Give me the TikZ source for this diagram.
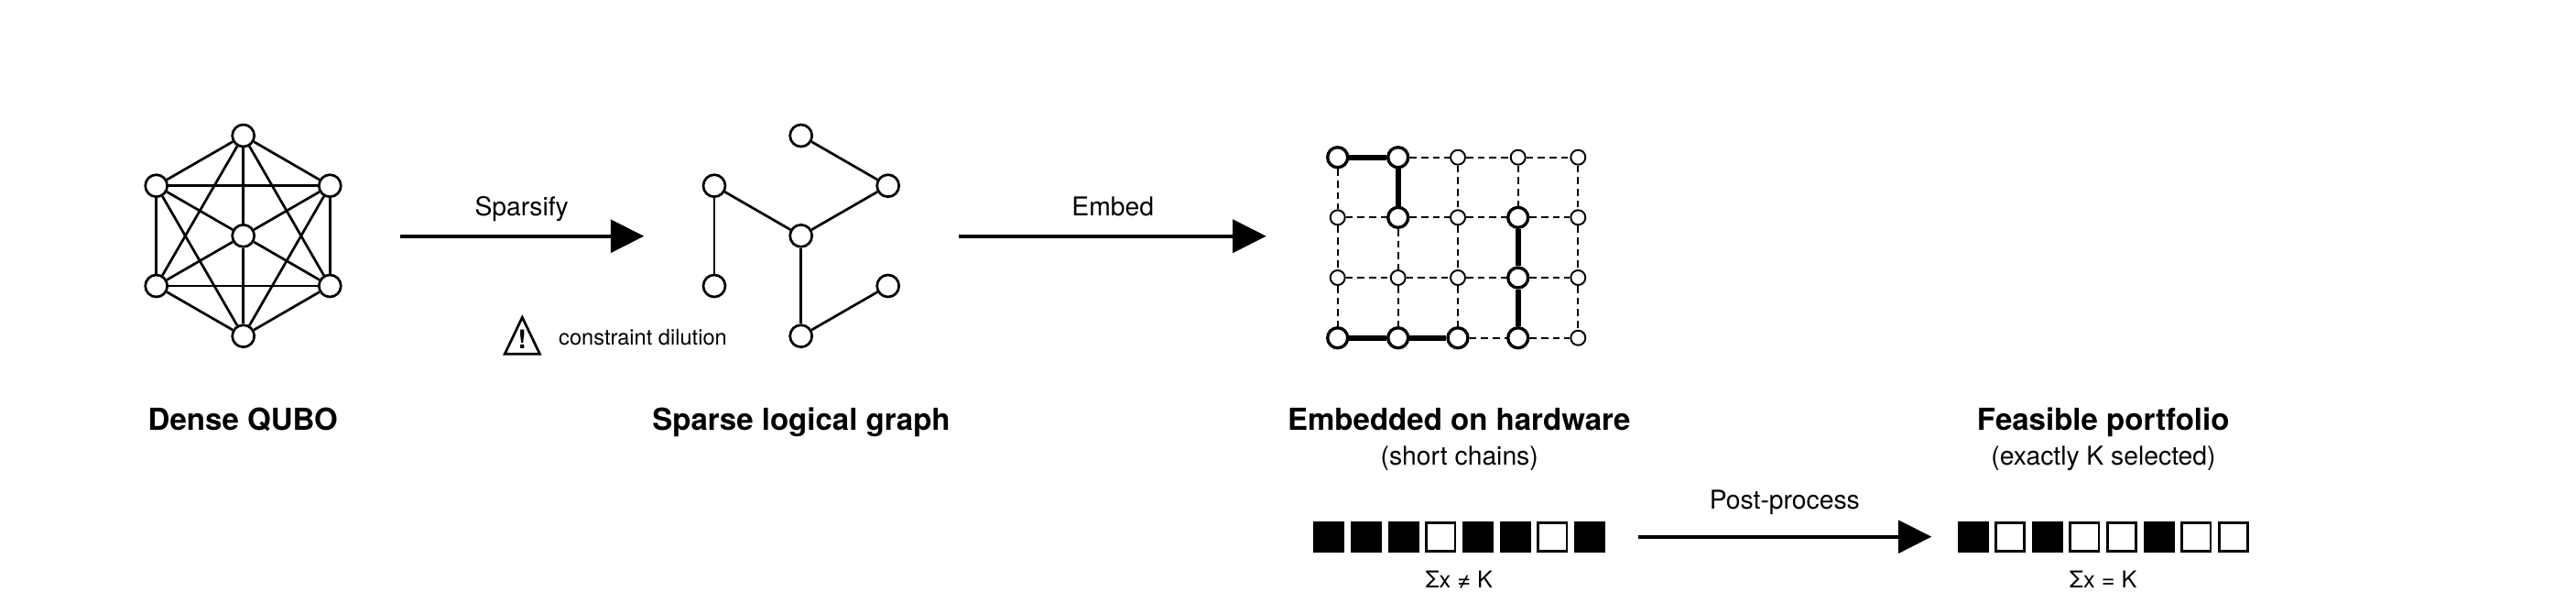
\documentclass[tikz,border=0pt]{standalone}
\usepackage{fontspec}
\setmainfont{TeX Gyre Heros}
\usetikzlibrary{arrows.meta}
\tikzset{
  vert/.style={draw, circle, fill=white, inner sep=0pt, minimum size=0.24cm, line width=0.77pt},
  qsmall/.style={draw, circle, fill=white, inner sep=0pt, minimum size=0.16cm, line width=0.55pt},
  qbig/.style={draw, circle, fill=white, inner sep=0pt, minimum size=0.22cm, line width=0.95pt},
  link/.style={line width=0.77pt},
  coupler/.style={line width=0.48pt, dash pattern=on 2.2pt off 1.4pt},
  chain/.style={line width=1.6pt},
  bit1/.style={draw, fill=black, inner sep=0pt, minimum size=0.313cm, line width=0.77pt},
  bit0/.style={draw, fill=white, inner sep=0pt, minimum size=0.313cm, line width=0.77pt},
  flow/.style={line width=1.14pt, -{Triangle[length=10.4pt, width=10.2pt]}},
  titletxt/.style={anchor=base, font=\fontsize{9.4}{11}\selectfont\bfseries},
  steptxt/.style={anchor=base, font=\fontsize{8.05}{9}\selectfont},
  smalltxt/.style={anchor=base, font=\fontsize{7.2}{8}\selectfont}
}
\begin{document}
\begin{tikzpicture}
\useasboundingbox (0,0) rectangle (28.13,6.57);
% dense graph
\node [vert] (d0) at (2.657,5.09) {}; \node [vert] (d1) at (3.603,4.543) {};
\node [vert] (d2) at (3.603,3.45) {}; \node [vert] (d3) at (2.657,2.903) {};
\node [vert] (d4) at (1.707,3.45) {}; \node [vert] (d5) at (1.707,4.543) {};
\node [vert] (dc) at (2.657,3.997) {};
\draw [link] (d0) -- (d1); \draw [link] (d1) -- (d2); \draw [link] (d2) -- (d3);
\draw [link] (d3) -- (d4); \draw [link] (d4) -- (d5); \draw [link] (d5) -- (d0);
\draw [link] (d0) -- (d2); \draw [link] (d1) -- (d3); \draw [link] (d2) -- (d4);
\draw [link] (d3) -- (d5); \draw [link] (d4) -- (d0); \draw [link] (d5) -- (d1);
\draw [link] (dc) -- (d0); \draw [link] (dc) -- (d1); \draw [link] (dc) -- (d2);
\draw [link] (dc) -- (d3); \draw [link] (dc) -- (d4); \draw [link] (dc) -- (d5);
\node [titletxt] (densetitle) at (2.653,1.88) {Dense QUBO};
% sparsify
\coordinate (sf1) at (4.373,3.993); \coordinate (sf2) at (7.033,3.993);
\draw [flow] (sf1) -- (sf2); \node [steptxt] (sflabel) at (5.697,4.213) {Sparsify};
\draw [line width=0.77pt] (5.703,3.107) -- (5.895,2.707) -- (5.512,2.707) -- cycle;
\node [anchor=base, font=\fontsize{8}{9}\selectfont\bfseries] (warnmark) at (5.703,2.77) {!};
\node [anchor=base, font=\fontsize{6.72}{8}\selectfont] (warntext) at (7.02,2.803) {constraint dilution};
% sparse graph
\node [vert] (s0) at (8.747,5.09) {}; \node [vert] (s1) at (9.697,4.543) {};
\node [vert] (s2) at (9.697,3.45) {}; \node [vert] (s3) at (8.747,2.903) {};
\node [vert] (s4) at (7.8,3.45) {}; \node [vert] (s5) at (7.8,4.543) {};
\node [vert] (sc) at (8.747,3.997) {};
\draw [link] (s0) -- (s1); \draw [link] (s1) -- (sc); \draw [link] (s5) -- (sc);
\draw [link] (s5) -- (s4); \draw [link] (sc) -- (s3); \draw [link] (s3) -- (s2);
\node [titletxt] (sparsetitle) at (8.75,1.88) {Sparse logical graph};
% embed
\coordinate (em1) at (10.467,3.993); \coordinate (em2) at (13.827,3.993);
\draw [flow] (em1) -- (em2); \node [steptxt] (emlabel) at (12.153,4.213) {Embed};
% hardware grid
\node [qbig] (g00) at (14.607,4.853) {}; \node [qbig] (g01) at (15.267,4.853) {}; \node [qsmall] (g02) at (15.92,4.853) {}; \node [qsmall] (g03) at (16.577,4.853) {}; \node [qsmall] (g04) at (17.233,4.853) {};
\node [qsmall] (g10) at (14.607,4.197) {}; \node [qbig] (g11) at (15.267,4.197) {}; \node [qsmall] (g12) at (15.92,4.197) {}; \node [qbig] (g13) at (16.577,4.197) {}; \node [qsmall] (g14) at (17.233,4.197) {};
\node [qsmall] (g20) at (14.607,3.54) {}; \node [qsmall] (g21) at (15.267,3.54) {}; \node [qsmall] (g22) at (15.92,3.54) {}; \node [qbig] (g23) at (16.577,3.54) {}; \node [qsmall] (g24) at (17.233,3.54) {};
\node [qbig] (g30) at (14.607,2.883) {}; \node [qbig] (g31) at (15.267,2.883) {}; \node [qbig] (g32) at (15.92,2.883) {}; \node [qbig] (g33) at (16.577,2.883) {}; \node [qsmall] (g34) at (17.233,2.883) {};
% couplers
\draw [coupler] (g01) -- (g02); \draw [coupler] (g02) -- (g03); \draw [coupler] (g03) -- (g04);
\draw [coupler] (g10) -- (g11); \draw [coupler] (g11) -- (g12); \draw [coupler] (g12) -- (g13); \draw [coupler] (g13) -- (g14);
\draw [coupler] (g20) -- (g21); \draw [coupler] (g21) -- (g22); \draw [coupler] (g22) -- (g23); \draw [coupler] (g23) -- (g24);
\draw [coupler] (g32) -- (g33); \draw [coupler] (g33) -- (g34);
\draw [coupler] (g00) -- (g10); \draw [coupler] (g10) -- (g20); \draw [coupler] (g20) -- (g30);
\draw [coupler] (g11) -- (g21); \draw [coupler] (g21) -- (g31);
\draw [coupler] (g02) -- (g12); \draw [coupler] (g12) -- (g22); \draw [coupler] (g22) -- (g32);
\draw [coupler] (g03) -- (g13);
\draw [coupler] (g04) -- (g14); \draw [coupler] (g14) -- (g24); \draw [coupler] (g24) -- (g34);
% chains
\draw [chain] (g00) -- (g01); \draw [chain] (g01) -- (g11);
\draw [chain] (g13) -- (g23); \draw [chain] (g23) -- (g33);
\draw [chain] (g30) -- (g31); \draw [chain] (g31) -- (g32);
\node [titletxt] (hwtitle) at (15.933,1.88) {Embedded on hardware};
\node [steptxt] (hwnote) at (15.937,1.497) {(short chains)};
% bits before
\node [bit1] (a1) at (14.513,0.712) {}; \node [bit1] (a2) at (14.92,0.712) {};
\node [bit1] (a3) at (15.327,0.712) {}; \node [bit0] (a4) at (15.733,0.712) {};
\node [bit1] (a5) at (16.14,0.712) {}; \node [bit1] (a6) at (16.547,0.712) {};
\node [bit0] (a7) at (16.953,0.712) {}; \node [bit1] (a8) at (17.36,0.712) {};
\node [smalltxt] (asum) at (15.933,0.153) {Σx ≠ K};
% post-process
\coordinate (pp1) at (17.89,0.713); \coordinate (pp2) at (21.093,0.713);
\draw [flow] (pp1) -- (pp2); \node [steptxt] (pplabel) at (19.488,1.02) {Post-process};
% bits after
\node [bit1] (b1) at (21.545,0.712) {}; \node [bit0] (b2) at (21.951,0.712) {};
\node [bit1] (b3) at (22.358,0.712) {}; \node [bit0] (b4) at (22.764,0.712) {};
\node [bit0] (b5) at (23.171,0.712) {}; \node [bit1] (b6) at (23.577,0.712) {};
\node [bit0] (b7) at (23.983,0.712) {}; \node [bit0] (b8) at (24.39,0.712) {};
\node [smalltxt] (bsum) at (22.967,0.153) {Σx = K};
\node [titletxt] (fptitle) at (22.967,1.88) {Feasible portfolio};
\node [steptxt] (fpnote) at (22.97,1.497) {(exactly K selected)};
\end{tikzpicture}
\end{document}
